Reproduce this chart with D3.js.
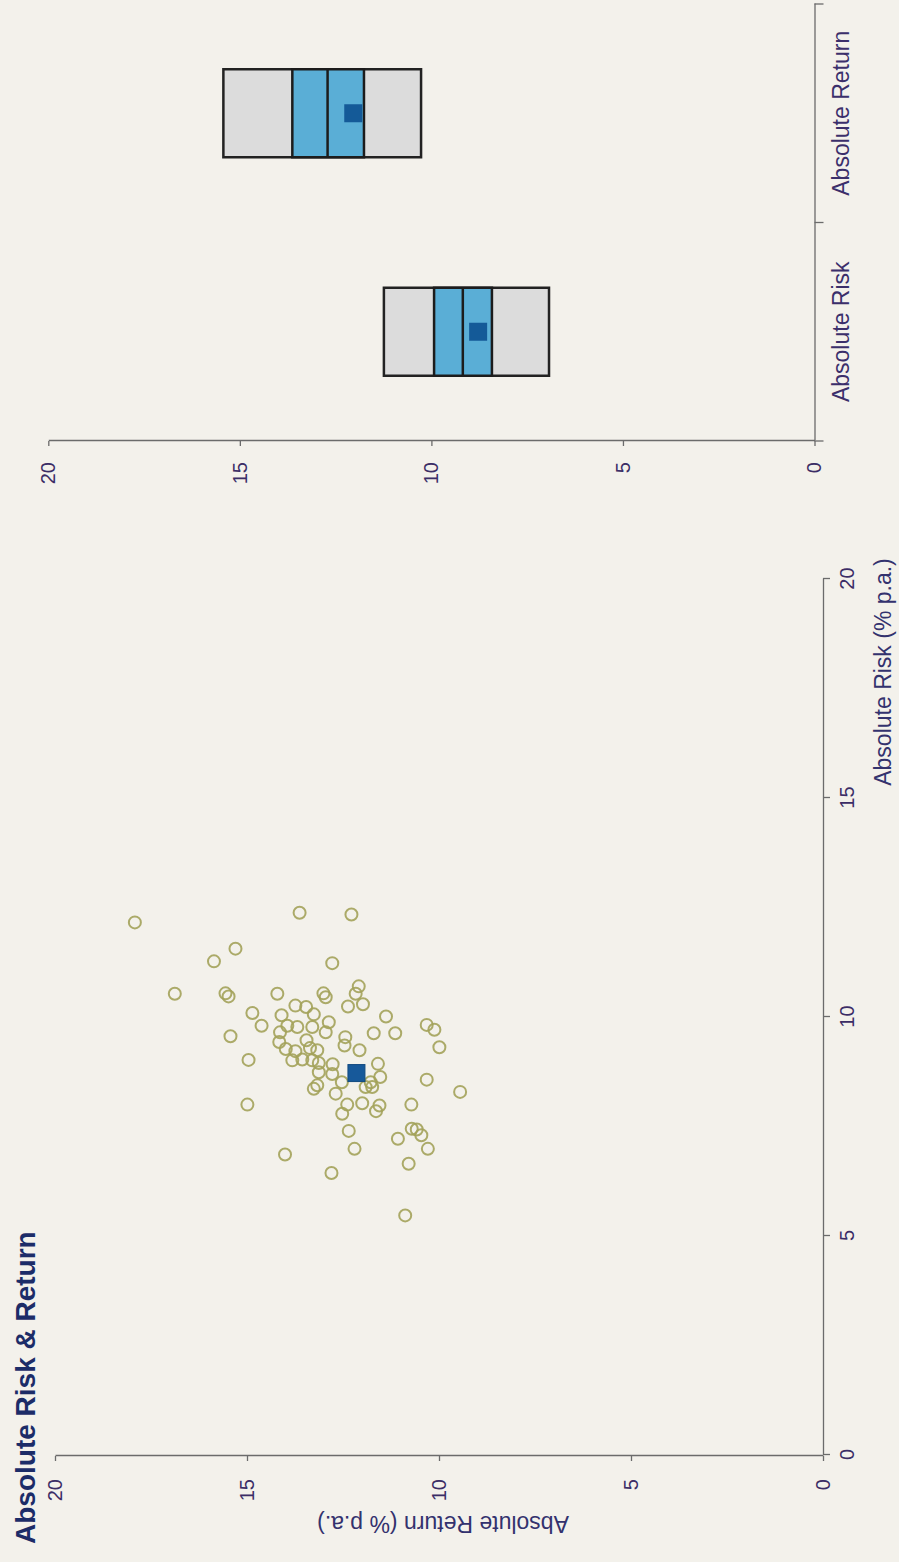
<!DOCTYPE html>
<html>
<head>
<meta charset="utf-8">
<script src="https://cdn.jsdelivr.net/npm/d3@7/dist/d3.min.js"></script>
<style>
  html, body { margin: 0; padding: 0; background: #f3f1eb; }
  svg { display: block; }
  text { font-family: "Liberation Sans", Arial, sans-serif; }
</style>
</head>
<body>
<script>
// ---- data ----
const titleText = "Absolute Risk & Return";
const axisTicks = [0, 5, 10, 15, 20];
const riskLabel = "Absolute Risk (% p.a.)";
const returnLabel = "Absolute Return (% p.a.)";

// peer group scatter (risk, return in % p.a.)
const peerRisk = [12.16, 12.38, 12.34, 11.56, 11.27, 11.23, 10.53, 10.54, 10.47, 10.53,
  10.54, 10.45, 10.70, 10.53, 10.24, 10.29, 10.09, 9.80, 9.56, 9.02,
  8.00, 6.86, 6.44, 5.47, 10.01, 9.63, 9.63, 9.82, 9.71, 9.31,
  8.57, 8.29, 8.00, 8.93, 8.63, 8.51, 8.40, 8.03, 7.98, 7.85,
  8.00, 7.79, 8.25, 7.40, 6.99, 7.45, 7.43, 7.30, 7.22, 6.99,
  6.65, 8.36, 8.44, 9.24, 9.54, 9.35, 9.88, 9.65, 9.77, 10.06,
  10.23, 10.26, 10.04, 9.80, 9.77, 9.65, 9.43, 9.27, 9.22, 9.47,
  9.29, 9.24, 9.01, 9.03, 8.95, 8.92, 8.74, 8.70, 8.51, 9.01, 8.40];
const peerReturn = [17.92, 13.63, 12.28, 15.30, 15.86, 12.78, 16.88, 15.56, 15.48, 14.21,
  13.01, 12.95, 12.09, 12.17, 12.37, 11.98, 14.86, 14.62, 15.43, 14.96,
  14.99, 14.01, 12.80, 10.88, 11.38, 11.70, 11.14, 10.32, 10.12, 9.99,
  10.32, 9.45, 10.72, 11.59, 11.53, 11.78, 11.74, 12.00, 11.55, 11.64,
  12.39, 12.52, 12.69, 12.35, 12.20, 10.71, 10.58, 10.46, 11.07, 10.29,
  10.79, 13.26, 13.17, 12.07, 12.44, 12.46, 12.87, 12.95, 13.30, 13.26,
  13.46, 13.74, 14.10, 13.95, 13.69, 14.14, 14.16, 13.99, 13.74, 13.45,
  13.36, 13.17, 13.82, 13.56, 13.13, 12.77, 13.13, 12.78, 12.53, 13.30, 11.91];
const fundRisk = 8.72;
const fundReturn = 12.15;

// percentile boxes
const boxCategories = ["Absolute Risk", "Absolute Return"];
const p5 = [6.93, 10.27];
const p25 = [8.42, 11.76];
const p50 = [9.18, 12.71];
const p75 = [9.93, 13.63];
const p95 = [11.24, 15.43];
const fundBox = [8.78, 12.04];

// ---- drawing ----
const PW = 899, PH = 1562;          // page
const W = PH, H = PW;               // chart frame (landscape, rotated onto page)
const textCol = "#3b2d66", axisCol = "#6b6b6b";

const svg = d3.select("body").append("svg").attr("width", PW).attr("height", PH);
svg.append("rect").attr("width", PW).attr("height", PH).attr("fill", "#f3f1eb");
const g = svg.append("g").attr("transform", `translate(0,${PH}) rotate(-90)`);

// title
g.append("text").attr("x", 18).attr("y", 35)
  .attr("font-size", 28).attr("font-weight", "bold").attr("fill", "#1c2c68")
  .text(titleText);

// ---------- scatter ----------
const x = d3.scaleLinear().domain([0, 20]).range([107, 983]);
const y = d3.scaleLinear().domain([0, 20]).range([823, 55]);

function styleAxis(sel) {
  sel.select(".domain").attr("stroke", axisCol).attr("stroke-width", 1.3);
  sel.selectAll(".tick line").attr("stroke", axisCol).attr("stroke-width", 1.3);
  sel.selectAll(".tick text").attr("fill", textCol).attr("font-size", 20)
    .attr("font-family", "'Liberation Sans', Arial, sans-serif");
}

g.append("g").attr("transform", `translate(0,${y(0)})`)
  .call(d3.axisBottom(x).tickValues(axisTicks).tickSize(7).tickSizeOuter(0).tickPadding(10))
  .call(styleAxis);
g.append("g").attr("transform", `translate(${x(0) - 1},0)`)
  .call(d3.axisLeft(y).tickValues(axisTicks).tickSize(5).tickSizeOuter(0).tickPadding(18))
  .call(styleAxis);

g.append("text").attr("x", 890).attr("y", 891).attr("text-anchor", "middle")
  .attr("font-size", 23).attr("fill", "#33326e").text(riskLabel);
g.append("text").attr("transform", `translate(46,${(y(0) + y(20)) / 2 + 4}) rotate(-90)`)
  .attr("text-anchor", "middle").attr("font-size", 23).attr("fill", "#33326e").text(returnLabel);

const peers = peerRisk.map((r, i) => ({ r, v: peerReturn[i] }));
g.append("g").selectAll("circle").data(peers).join("circle")
  .attr("cx", d => x(d.r)).attr("cy", d => y(d.v)).attr("r", 6)
  .attr("fill", "none").attr("stroke", "#a3a25a").attr("stroke-width", 2).attr("stroke-opacity", 0.9);

const sq = 17;
g.append("rect").attr("x", x(fundRisk) - sq / 2).attr("y", y(fundReturn) - sq / 2)
  .attr("width", sq).attr("height", sq).attr("fill", "#17599a").attr("stroke", "#124a80").attr("stroke-width", 1);

// ---------- percentile boxes ----------
const bx = d3.scaleBand().domain(boxCategories).range([1121, 1558]);
const by = d3.scaleLinear().domain([0, 20]).range([814.5, 48.3]);

g.append("g").attr("transform", `translate(${bx.range()[0]},0)`)
  .call(d3.axisLeft(by).tickValues(axisTicks).tickSize(5).tickSizeOuter(0).tickPadding(16))
  .call(styleAxis);

const catAxis = g.append("g").attr("transform", `translate(0,${by(0)})`)
  .call(d3.axisBottom(bx).tickSize(0).tickPadding(18));
catAxis.select(".domain").attr("stroke", axisCol).attr("stroke-width", 1.3);
catAxis.selectAll(".tick text").attr("fill", "#3b2f6b").attr("font-size", 23)
  .attr("font-family", "'Liberation Sans', Arial, sans-serif");
const bounds = boxCategories.map(c => bx(c)).concat([bx.range()[1]]);
catAxis.selectAll("line.bound").data(bounds).join("line").attr("class", "bound")
  .attr("x1", d => d).attr("x2", d => d).attr("y1", 0).attr("y2", 9)
  .attr("stroke", axisCol).attr("stroke-width", 1.3);

const boxW = 88;
const boxes = boxCategories.map((c, i) => ({ c, p5: p5[i], p25: p25[i], p50: p50[i], p75: p75[i], p95: p95[i], f: fundBox[i] }));
const bg = g.append("g").selectAll("g").data(boxes).join("g")
  .attr("transform", d => `translate(${bx(d.c) + bx.bandwidth() / 2 - boxW / 2},0)`);
bg.append("rect").attr("x", 0).attr("width", boxW)
  .attr("y", d => by(d.p95)).attr("height", d => by(d.p5) - by(d.p95))
  .attr("fill", "#dcdcdc").attr("stroke", "#222").attr("stroke-width", 2.5);
bg.append("rect").attr("x", 0).attr("width", boxW)
  .attr("y", d => by(d.p75)).attr("height", d => by(d.p25) - by(d.p75))
  .attr("fill", "#5aaed6").attr("stroke", "#1c1c1c").attr("stroke-width", 2.5);
bg.append("line").attr("x1", 0).attr("x2", boxW)
  .attr("y1", d => by(d.p50)).attr("y2", d => by(d.p50))
  .attr("stroke", "#1c1c1c").attr("stroke-width", 2.5);
bg.append("rect").attr("width", 18).attr("height", 18)
  .attr("x", boxW / 2 - 9).attr("y", d => by(d.f) - 9)
  .attr("fill", "#145a98");
</script>
</body>
</html>
